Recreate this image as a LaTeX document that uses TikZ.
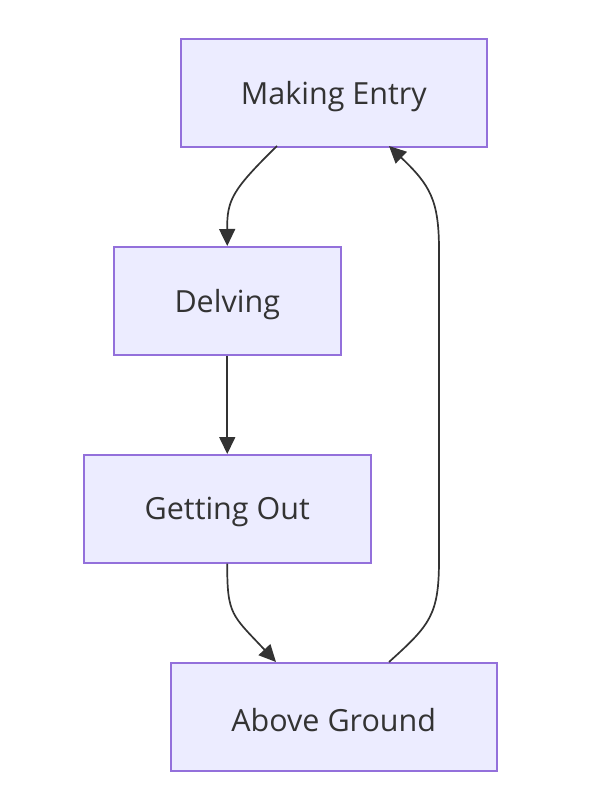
\documentclass[tikz,border=0pt]{standalone}
\usepackage{fontspec}
\setmainfont{Open Sans}
\usetikzlibrary{arrows.meta}
\definecolor{nodefill}{HTML}{ECECFF}
\definecolor{nodeborder}{HTML}{9370DB}
\definecolor{txt}{HTML}{333333}
\tikzset{
  box/.style={draw=nodeborder, fill=nodefill, line width=1.5pt, text=txt,
    font=\fontsize{30.5}{36}\selectfont, inner sep=0pt, anchor=north west},
  link/.style={draw=txt, line width=1.7pt, -{Triangle[length=17pt,width=16pt]}}
}
\newcommand{\lbl}[1]{\raisebox{-3.5pt}[\height][\depth]{#1}}
\begin{document}
\begin{tikzpicture}[x=1pt,y=-1pt]
\useasboundingbox (0,0) rectangle (598,806);
\node[box, minimum width=306pt, minimum height=108pt] (me) at (180,38) {\lbl{Making Entry}};
\node[box, minimum width=227pt, minimum height=108pt] (dv) at (113,246) {\lbl{Delving}};
\node[box, minimum width=287pt, minimum height=108pt] (go) at (83,454) {\lbl{Getting Out}};
\node[box, minimum width=326pt, minimum height=108pt] (ag) at (170,662) {\lbl{Above Ground}};
\coordinate (meA) at (277,146);
\coordinate (meB) at (389,146);
\coordinate (agA) at (276,662);
\coordinate (agB) at (389,662);
\draw[link] (meA) .. controls (232,190) and (227,200) .. (dv.north);
\draw[link] (dv.south) -- (go.north);
\draw[link] (go.south) .. controls (227,615) and (232,615) .. (agA);
\draw[link] (agB) .. controls (430,625) and (439,615) .. (439,560) -- (439,250) .. controls (439,200) and (430,185) .. (meB);
\end{tikzpicture}
\end{document}
